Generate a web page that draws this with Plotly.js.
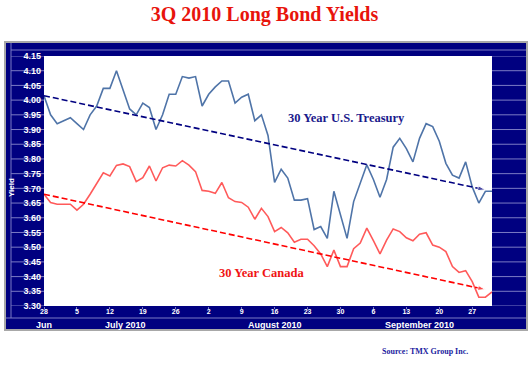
<!DOCTYPE html>
<html>
<head>
<meta charset="utf-8">
<script src="https://cdn.plot.ly/plotly-3.0.1.min.js"></script>
<style>html,body{margin:0;padding:0;background:#fff;}#chart{width:529px;height:366px;}</style>
</head>
<body>
<div id="chart"></div>
<script>
// Business days, 3Q 2010
var dates = [
  '2010-06-28','2010-06-29','2010-06-30','2010-07-01','2010-07-02',
  '2010-07-05','2010-07-06','2010-07-07','2010-07-08','2010-07-09',
  '2010-07-12','2010-07-13','2010-07-14','2010-07-15','2010-07-16',
  '2010-07-19','2010-07-20','2010-07-21','2010-07-22','2010-07-23',
  '2010-07-26','2010-07-27','2010-07-28','2010-07-29','2010-07-30',
  '2010-08-02','2010-08-03','2010-08-04','2010-08-05','2010-08-06',
  '2010-08-09','2010-08-10','2010-08-11','2010-08-12','2010-08-13',
  '2010-08-16','2010-08-17','2010-08-18','2010-08-19','2010-08-20',
  '2010-08-23','2010-08-24','2010-08-25','2010-08-26','2010-08-27',
  '2010-08-30','2010-08-31','2010-09-01','2010-09-02','2010-09-03',
  '2010-09-06','2010-09-07','2010-09-08','2010-09-09','2010-09-10',
  '2010-09-13','2010-09-14','2010-09-15','2010-09-16','2010-09-17',
  '2010-09-20','2010-09-21','2010-09-22','2010-09-23','2010-09-24',
  '2010-09-27','2010-09-28','2010-09-29','2010-09-30'
];
var treasury = [
  4.015,3.95,3.92,3.93,3.94,
  3.92,3.90,3.95,3.98,4.04,
  4.04,4.10,4.035,3.97,3.95,
  3.99,3.975,3.90,3.95,4.02,
  4.02,4.08,4.075,4.08,3.98,
  4.02,4.045,4.065,4.065,3.99,
  4.01,4.02,3.93,3.95,3.88,
  3.72,3.765,3.735,3.66,3.66,
  3.665,3.56,3.57,3.53,3.69,
  3.61,3.53,3.655,3.72,3.78,
  3.73,3.67,3.73,3.84,3.87,
  3.835,3.79,3.87,3.92,3.91,
  3.86,3.785,3.745,3.735,3.79,
  3.705,3.65,3.69,3.69
];
var canada = [
  3.68,3.652,3.646,3.646,3.646,
  3.626,3.646,3.68,3.717,3.753,
  3.742,3.778,3.783,3.774,3.723,
  3.736,3.776,3.725,3.77,3.779,
  3.776,3.794,3.779,3.757,3.693,
  3.69,3.683,3.72,3.668,3.655,
  3.652,3.636,3.595,3.632,3.604,
  3.553,3.567,3.549,3.517,3.527,
  3.527,3.505,3.477,3.434,3.49,
  3.434,3.434,3.495,3.514,3.565,
  3.522,3.477,3.524,3.562,3.553,
  3.532,3.522,3.544,3.549,3.507,
  3.50,3.485,3.434,3.414,3.42,
  3.383,3.33,3.33,3.348
];
// trend lines (start, end)
var trendDates = ['2010-06-28','2010-09-29'];
var treasuryTrend = [4.015, 3.695];
var canadaTrend = [3.68, 3.356];
// axis ticks
var weekTicks = ['2010-06-28','2010-07-05','2010-07-12','2010-07-19','2010-07-26','2010-08-02','2010-08-09','2010-08-16','2010-08-23','2010-08-30','2010-09-06','2010-09-13','2010-09-20','2010-09-27'];
var weekLabels = ['28','5','12','19','26','2','9','16','23','30','6','13','20','27'];
var monthLabels = ['Jun','July 2010','August 2010','September 2010'];
var monthPos = [0, 12.4, 35.1, 57];
var yTicks = [3.30,3.35,3.40,3.45,3.50,3.55,3.60,3.65,3.70,3.75,3.80,3.85,3.90,3.95,4.00,4.05,4.10,4.15];

var SERIF = 'Liberation Serif, Times New Roman, serif';
var SANS = 'Arial, Liberation Sans, sans-serif';
var NAVY = '#000080';
var LIGHT = '#7b7bc4';

var traces = [
  {x: dates, y: treasury, type: 'scatter', mode: 'lines', line: {color: '#4f74a8', width: 1.6}, hoverinfo: 'skip'},
  {x: dates, y: canada, type: 'scatter', mode: 'lines', line: {color: '#ff5a5a', width: 1.6}, hoverinfo: 'skip'},
  {x: trendDates, y: treasuryTrend, type: 'scatter', mode: 'lines+markers',
   line: {color: NAVY, width: 1.6, dash: '6px,3px'},
   marker: {symbol: 'arrow', angleref: 'previous', size: [0, 8], color: NAVY}, hoverinfo: 'skip'},
  {x: trendDates, y: canadaTrend, type: 'scatter', mode: 'lines+markers',
   line: {color: '#ff0000', width: 1.6, dash: '6px,3px'},
   marker: {symbol: 'arrow', angleref: 'previous', size: [0, 8], color: '#ff0000'}, hoverinfo: 'skip'}
];

function px(p){ return (p - 44) / 448; }
function py(p){ return (306 - p) / 250; }

var shapes = [
  {type: 'rect', xref: 'paper', yref: 'paper', layer: 'below',
   x0: px(5), x1: px(527), y0: py(330), y1: py(42),
   fillcolor: NAVY, line: {color: '#a8a8a8', width: 2}},
  {type: 'line', xref: 'paper', yref: 'paper', layer: 'below',
   x0: px(11), x1: px(526), y0: py(50), y1: py(50), line: {color: LIGHT, width: 1}},
  {type: 'line', xref: 'paper', yref: 'paper', layer: 'below',
   x0: px(6), x1: px(526), y0: py(318), y1: py(318), line: {color: LIGHT, width: 1}},
  {type: 'line', xref: 'paper', yref: 'paper', layer: 'below',
   x0: px(11), x1: px(11), y0: py(318), y1: py(43), line: {color: LIGHT, width: 1}},
  {type: 'rect', xref: 'paper', yref: 'paper', layer: 'below',
   x0: 0, x1: 1, y0: 0, y1: 1, fillcolor: '#ffffff', line: {width: 0}}
];
yTicks.forEach(function(v){
  shapes.push({type: 'line', xref: 'paper', yref: 'y', layer: 'below',
    x0: px(11), x1: 0, y0: v, y1: v, line: {color: LIGHT, width: 1}});
  shapes.push({type: 'line', xref: 'paper', yref: 'y', layer: 'below',
    x0: 1, x1: px(526), y0: v, y1: v, line: {color: LIGHT, width: 1}});
});

var annotations = monthLabels.map(function(t, i){
  return {text: t, xref: 'x', yref: 'paper', x: monthPos[i], y: py(325), showarrow: false,
    xanchor: 'center', yanchor: 'middle', font: {family: SANS, size: 9, color: '#ffffff', weight: 'bold'}};
});
annotations.push({text: 'Yield', xref: 'paper', yref: 'paper', x: px(11), y: py(188), textangle: -90,
  showarrow: false, xanchor: 'center', yanchor: 'middle', font: {family: SANS, size: 8, color: '#ffffff', weight: 'bold'}});
annotations.push({text: '30 Year U.S. Treasury', xref: 'paper', yref: 'paper', x: px(346.5), y: py(118),
  showarrow: false, xanchor: 'center', yanchor: 'middle', font: {family: SERIF, size: 12.5, color: '#1a1a8c', weight: 'bold'}});
annotations.push({text: '30 Year Canada', xref: 'paper', yref: 'paper', x: px(261), y: py(273),
  showarrow: false, xanchor: 'center', yanchor: 'middle', font: {family: SERIF, size: 12.5, color: '#f01414', weight: 'bold'}});
annotations.push({text: 'Source: TMX Group Inc.', xref: 'paper', yref: 'paper', x: px(425), y: py(351),
  showarrow: false, xanchor: 'center', yanchor: 'middle', font: {family: SERIF, size: 8, color: '#1c1ca0', weight: 'bold'}});

var layout = {
  width: 529, height: 366,
  margin: {l: 44, r: 37, t: 56, b: 60, pad: 0},
  paper_bgcolor: '#ffffff', plot_bgcolor: '#ffffff',
  showlegend: false,
  title: {text: '3Q 2010 Long Bond Yields', x: 0.5, xanchor: 'center', y: 1 - 14/366, yref: 'container', yanchor: 'middle',
    font: {family: SERIF, size: 20, color: '#e8140c', weight: 'bold'}},
  xaxis: {type: 'category', range: [0, 68], tickmode: 'array', tickvals: weekTicks, ticktext: weekLabels,
    ticks: 'outside', ticklen: 2, tickcolor: LIGHT, ticklabelstandoff: -3, showgrid: false, zeroline: false, showline: false,
    tickfont: {family: SANS, size: 7, color: '#ffffff', weight: 'bold'}, fixedrange: true},
  yaxis: {range: [3.30, 4.15], tickmode: 'array', tickvals: yTicks, tickformat: '.2f',
    ticks: '', ticklabelstandoff: 2, showgrid: false, zeroline: false, showline: false,
    tickfont: {family: SANS, size: 9, color: '#ffffff', weight: 'bold'}, fixedrange: true},
  shapes: shapes,
  annotations: annotations
};

Plotly.newPlot('chart', traces, layout, {staticPlot: true, displayModeBar: false});
</script>
</body>
</html>
